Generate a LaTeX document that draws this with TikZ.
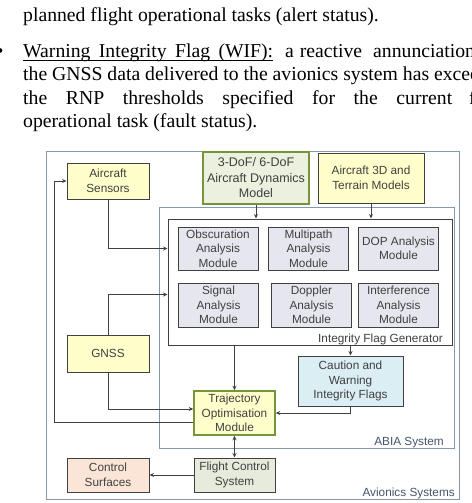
\documentclass[tikz,border=0pt]{standalone}
\usepackage{fontspec}
\setmainfont{Liberation Serif}
\newfontfamily\diagfont{Liberation Sans}
\usetikzlibrary{positioning, arrows.meta, calc}

\definecolor{boxyellow}{HTML}{FFFFCC}
\definecolor{boxgreen}{HTML}{EBF1DE}
\definecolor{boxsage}{HTML}{E6EBDC}
\definecolor{boxpeach}{HTML}{FBE5D6}
\definecolor{boxblue}{HTML}{DBEEF4}
\definecolor{boxgray}{HTML}{E6E6EE}
\definecolor{edgegray}{HTML}{404040}
\definecolor{olivegreen}{HTML}{77933C}
\definecolor{frameblue}{HTML}{8497B0}
\definecolor{labelblue}{HTML}{44546A}

\newcommand\ulspread[2]{\rlap{\rule[-3.4pt]{#1}{0.9pt}}\makebox[#1][s]{#2}}

\begin{document}
\begin{tikzpicture}[
  x=1pt, y=-1pt,
  font=\diagfont\fontsize{11.8}{14.5}\selectfont,
  body/.style={font=\rmfamily\fontsize{19.7}{23}\selectfont, anchor=base west, inner sep=0pt, text=black},
  box/.style={draw=edgegray, line width=1pt, align=center, inner sep=1pt, text=edgegray},
  ybox/.style={box, fill=boxyellow, minimum width=82pt, minimum height=36pt},
  mod/.style={box, fill=boxgray, minimum width=80pt, minimum height=43pt},
  frame/.style={draw=frameblue, line width=0.9pt},
  lbl/.style={anchor=base east, inner sep=0pt},
  arr/.style={-{Stealth[length=4.5pt, width=4pt]}, line width=1pt, draw=edgegray},
]
\useasboundingbox (0,0) rectangle (471,503);
\clip (0,0) rectangle (471,503);

% --- surrounding text ---
\node[body] (ln0) at (23,22) {planned flight operational tasks (alert status).};
\node[body] (bul) at (-3.5,58) {\textbullet};
\node[body] (ln1) at (23,58) {\ulspread{250pt}{Warning Integrity Flag (WIF):}};
\node[body] (ln1a) at (285,58) {\makebox[77pt][s]{a reactive}};
\node[body] (ln1b) at (373,58) {annunciation};
\node[body] (ln2) at (23,81) {the GNSS data delivered to the avionics system has exceeded};
\node[body] (ln3) at (23,104) {\makebox[429pt][s]{the RNP thresholds specified for the current}};
\node[body] (ln3b) at (469,104) {flight};
\node[body] (ln4) at (23,127) {operational task (fault status).};

% --- enclosures ---
\node[frame, minimum width=413pt, minimum height=348pt] (avs) at (252.5,325) {};
\node[frame, minimum width=295pt, minimum height=241pt] (abia) at (306.5,327.5) {};
\node[draw=edgegray, line width=1pt, minimum width=284pt, minimum height=126pt] (ifg) at (310,282) {};
\node[lbl, text=labelblue] (avslbl) at (455,496) {Avionics Systems};
\node[lbl, text=labelblue] (abialbl) at (444,445) {ABIA System};
\node[lbl, text=edgegray] (ifglbl) at (443,342) {Integrity Flag Generator};

% --- inputs ---
\node[ybox] (sens) at (108,181) {Aircraft\\Sensors};
\node[box, draw=olivegreen, line width=1.5pt, fill=boxgreen, minimum width=106pt, minimum height=52pt,
      font=\diagfont\fontsize{12.5}{15.5}\selectfont] (dof) at (256,178) {3-DoF/ 6-DoF\\Aircraft Dynamics\\Model};
\node[ybox, minimum width=106pt, minimum height=50pt] (terr) at (371,178) {Aircraft 3D and\\Terrain Models};
\node[ybox, minimum height=37pt] (gnss) at (108,353.5) {GNSS};

% --- analysis modules ---
\node[mod] (obs) at (218,248.5) {Obscuration\\Analysis\\Module};
\node[mod] (mpath) at (308.5,248.5) {Multipath\\Analysis\\Module};
\node[mod] (dop) at (398.5,248.5) {DOP Analysis\\Module};
\node[mod, minimum height=44pt] (sig) at (218.5,305) {Signal\\Analysis\\Module};
\node[mod, minimum height=44pt] (dopp) at (311.5,305) {Doppler\\Analysis\\Module};
\node[mod, minimum height=44pt] (intf) at (398.5,305) {Interference\\Analysis\\Module};

% --- outputs ---
\node[box, draw=olivegreen, line width=1.5pt, fill=boxyellow, minimum width=81pt, minimum height=44pt] (traj) at (234.5,413) {Trajectory\\Optimisation\\Module};
\node[box, fill=boxblue, minimum width=105pt, minimum height=50pt] (flags) at (350.5,381) {Caution and\\Warning\\Integrity Flags};
\node[box, fill=boxsage, minimum width=81pt, minimum height=34pt] (fcs) at (234.5,475) {Flight Control\\System};
\node[box, fill=boxpeach, minimum width=82pt, minimum height=34pt] (surf) at (108,475) {Control\\Surfaces};

% --- connectors ---
\draw[arr] (dof.south) -- (dof.south |- ifg.north);
\draw[arr] (terr.south) -- (terr.south |- ifg.north);
\draw[arr] (sens.south) |- (ifg.west |- obs.center);
\coordinate (sigin) at ($(ifg.west |- sig.north)+(0,12)$);
\draw[arr] (gnss.north) |- (sigin);
\draw[arr] (gnss.south) |- ($(traj.west)+(0,-4)$);
\draw[arr] ($(traj.west)+(0,9)$) -| ($(sens.west)+(-12,0)$) -- (sens.west);
\draw[arr] (traj.north |- ifg.south) -- (traj.north);
\draw[arr] (flags.north |- ifg.south) -- (flags.north);
\draw[arr] (flags.south) |- (traj.east);
\draw[arr, {Stealth[length=4.5pt, width=4pt]}-{Stealth[length=4.5pt, width=4pt]}] (traj.south) -- (fcs.north);
\draw[arr] (fcs.west) -- (surf.east);

\end{tikzpicture}
\end{document}
